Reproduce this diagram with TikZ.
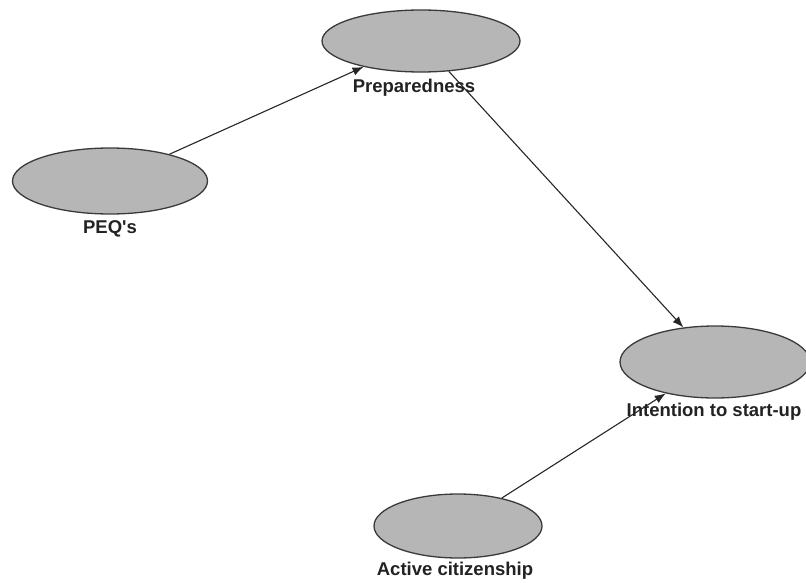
\documentclass[tikz,border=0pt]{standalone}
\usepackage{fontspec}
\setmainfont{Liberation Sans}
\usetikzlibrary{shapes.geometric,arrows.meta}
\definecolor{efill}{HTML}{B6B6B6}
\definecolor{edraw}{HTML}{3A3A3A}
\definecolor{txt}{HTML}{222222}
\tikzset{
  lv/.style={ellipse, draw=edraw, fill=efill, line width=1.3pt, inner sep=0pt},
  lbl/.style={text=txt, font=\fontsize{18.5}{20}\selectfont\bfseries, inner sep=0pt},
  conn/.style={draw=black!85, line width=1.1pt, -{Latex[length=11pt,width=8.5pt]}}
}
\begin{document}
\begin{tikzpicture}[x=1pt,y=-1pt]
\useasboundingbox (0,0) rectangle (806,583);
\clip (0,0) rectangle (806,583);
\node[lv, minimum width=198pt, minimum height=62pt] (prep) at (421,41) {};
\node[lv, minimum width=195pt, minimum height=66pt] (peq) at (110,181) {};
\node[lv, minimum width=190pt, minimum height=72pt] (int) at (715,362) {};
\node[lv, minimum width=168pt, minimum height=64pt] (act) at (458,526) {};
\node[lbl] (lprep) at (414,88) {Preparedness};
\node[lbl] (lpeq) at (110,229) {PEQ\textquotesingle s};
\node[lbl] (lint) at (714,412) {Intention to start-up};
\node[lbl] (lact) at (455,571) {Active citizenship};
\draw[conn] (peq) -- (prep);
\draw[conn] (prep) -- (int);
\draw[conn] (act) -- (int);
\end{tikzpicture}
\end{document}
